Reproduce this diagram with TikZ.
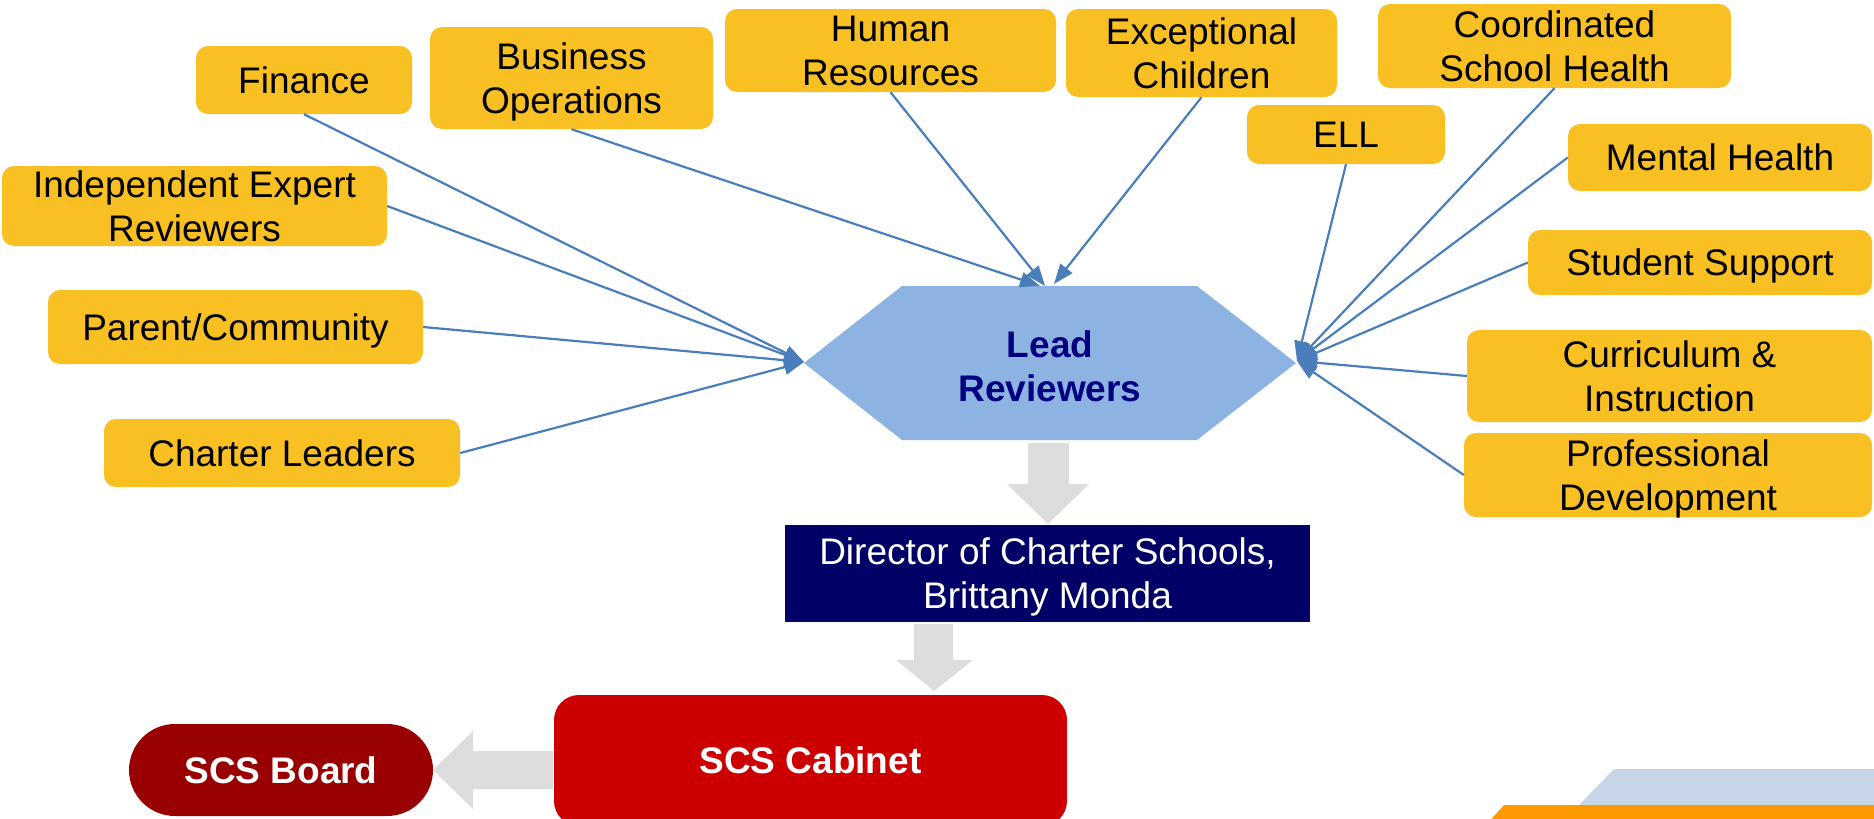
\documentclass[tikz,border=0pt]{standalone}
\usepackage{fontspec}
\setmainfont{Liberation Sans}
\usetikzlibrary{arrows.meta}
\definecolor{yel}{HTML}{F8C022}
\definecolor{hexfill}{HTML}{8DB3E2}
\definecolor{lblue}{HTML}{4A7EBB}
\definecolor{navyfill}{HTML}{000066}
\definecolor{navytext}{HTML}{000080}
\definecolor{cabred}{HTML}{CC0000}
\definecolor{boardred}{HTML}{990000}
\definecolor{grayarr}{HTML}{DDDDDD}
\definecolor{decoblue}{HTML}{C6D5E8}
\definecolor{decoorange}{HTML}{FF9900}
\tikzset{
  ybox/.style={fill=yel, rounded corners=12pt, inner sep=0pt, align=center,
    font=\fontsize{37}{44}\selectfont, text=black, text depth=0pt},
  conn/.style={draw=lblue, line width=2.2pt, -{Triangle[length=20pt,width=15pt]}},
  grayblock/.style={fill=grayarr},
}
\begin{document}
\begin{tikzpicture}[x=1pt,y=-1pt]
\useasboundingbox (0,0) rectangle (1874,819);
\clip (0,0) rectangle (1874,819);

% decoration bottom right
\fill[decoblue] (1614,769) -- (1874,769) -- (1874,805) -- (1579,805) -- cycle;
\fill[decoorange] (1504,805) -- (1874,805) -- (1874,825) -- (1486,825) -- cycle;

% hexagon
\fill[hexfill] (804,363) -- (902,286) -- (1197,286) -- (1296,363) -- (1197,440) -- (902,440) -- cycle;
\node[font=\bfseries\fontsize{37}{44}\selectfont, text=navytext, align=center] (lead) at (1050,366) {Lead\\Reviewers};
\coordinate (hexW) at (804,362);
\coordinate (hexE) at (1297,361);
\coordinate (topA) at (1040,286);
\coordinate (topB) at (1045,286);
\coordinate (topC) at (1054,284);

% yellow boxes
\node[ybox, minimum width=216pt, minimum height=68pt] (fin) at (304,80) {Finance};
\node[ybox, minimum width=283pt, minimum height=102pt] (bus) at (571.5,78) {Business\\Operations};
\node[ybox, minimum width=331pt, minimum height=83pt] (hr) at (890.5,50.5) {Human\\Resources};
\node[ybox, minimum width=271pt, minimum height=88pt] (exc) at (1201.5,53) {Exceptional\\Children};
\node[ybox, minimum width=353pt, minimum height=84pt] (coord) at (1554.5,46) {Coordinated\\School Health};
\node[ybox, minimum width=198pt, minimum height=59pt] (ell) at (1346,134.5) {ELL};
\node[ybox, minimum width=304pt, minimum height=67pt] (mh) at (1720,157.5) {Mental Health};
\node[ybox, minimum width=344pt, minimum height=65pt] (ss) at (1700,262.5) {Student Support};
\node[ybox, minimum width=405pt, minimum height=92pt] (ci) at (1669.5,376) {Curriculum \&\\Instruction};
\node[ybox, minimum width=408pt, minimum height=84pt] (pd) at (1668,475) {Professional\\Development};
\node[ybox, minimum width=385pt, minimum height=80pt] (ier) at (194.5,206) {Independent Expert\\Reviewers};
\node[ybox, minimum width=375pt, minimum height=74pt] (pc) at (235.5,327) {Parent/Community};
\node[ybox, minimum width=356pt, minimum height=68pt] (cl) at (282,453) {Charter Leaders};

% connectors
\draw[conn] (fin.south) -- (hexW);
\draw[conn] (ier.east) -- (hexW);
\draw[conn] (pc.east) -- (hexW);
\draw[conn] (cl.east) -- (hexW);
\draw[conn] (bus.south) -- (topA);
\draw[conn] (hr.south) -- (topB);
\draw[conn] (exc.south) -- (topC);
\draw[conn] (ell.south) -- (hexE);
\draw[conn] (coord.south) -- (hexE);
\draw[conn] (mh.west) -- (hexE);
\draw[conn] (ss.west) -- (hexE);
\draw[conn] (ci.west) -- (hexE);
\draw[conn] (pd.west) -- (hexE);

% director
\node[fill=navyfill, text=white, inner sep=0pt, align=center, minimum width=525pt, minimum height=97pt,
  font=\fontsize{37}{44}\selectfont, text depth=0pt] (dir) at (1047.5,573.5) {Director of Charter Schools,\\Brittany Monda};

% cabinet and board
\node[fill=cabred, text=white, rounded corners=25pt, inner sep=0pt, minimum width=513pt, minimum height=131pt,
  font=\bfseries\fontsize{37}{44}\selectfont] (cab) at (810.5,760.5) {SCS Cabinet};
\node[fill=boardred, text=white, rounded corners=46pt, inner sep=0pt, minimum width=304pt, minimum height=92pt,
  font=\bfseries\fontsize{37}{44}\selectfont] (board) at (281,770) {SCS Board};

% gray block arrows
\fill[grayblock] (1028,443) -- (1069,443) -- (1069,484) -- (1089,484) -- (1048,524) -- (1007,484) -- (1028,484) -- cycle;
\fill[grayblock] (914,624) -- (953,624) -- (953,660) -- (973,660) -- (934,691) -- (896,660) -- (914,660) -- cycle;
\fill[grayblock] (553,751) -- (473,751) -- (473,731) -- (433,770) -- (473,809) -- (473,789) -- (553,789) -- cycle;
\end{tikzpicture}
\end{document}
